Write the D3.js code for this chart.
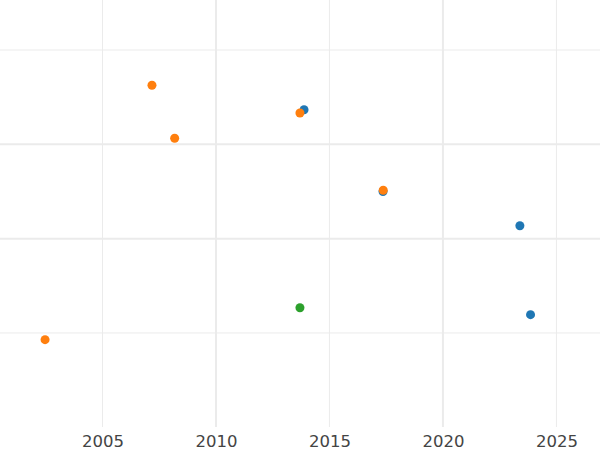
<!DOCTYPE html>
<html>
<head>
<meta charset="utf-8">
<script src="https://cdn.jsdelivr.net/npm/d3@7"></script>
<style>
html,body{margin:0;padding:0;background:#fff;}
svg{display:block;}
</style>
</head>
<body>
<svg id="chart" width="600" height="450"></svg>
<script>
// Data (x = year, y = unlabeled value)
const blueX = [2013.88, 2017.36, 2023.39, 2023.86];
const blueY = [3.367, 2.500, 2.137, 1.194];
const orangeX = [2007.18, 2008.18, 2013.70, 2017.37, 2002.47];
const orangeY = [3.626, 3.064, 3.332, 2.513, 0.929];
const greenX = [2013.70];
const greenY = [1.268];
const xTicks = [2005, 2010, 2015, 2020, 2025];
const xMajor = [2010, 2020];
const yGrid = [1, 2, 3, 4];
const yMajor = [2, 3];
const seriesColors = ["#1f77b4", "#ff7f0e", "#2ca02c"];

const svg = d3.select("#chart");
const x = d3.scaleLinear().domain([2000.485, 2026.92]).range([0, 600]);
const y = d3.scaleLinear().domain([0, 4.53]).range([427.3, 0]);

const grid = svg.append("g");
grid.selectAll("line.v").data(xTicks).join("line")
  .attr("x1", d => x(d)).attr("x2", d => x(d))
  .attr("y1", 0).attr("y2", 427)
  .attr("stroke", "#ebebeb")
  .attr("stroke-width", d => xMajor.includes(d) ? 2 : 1);
grid.selectAll("line.h").data(yGrid).join("line")
  .attr("x1", 0).attr("x2", 600)
  .attr("y1", d => y(d)).attr("y2", d => y(d))
  .attr("stroke", "#ebebeb")
  .attr("stroke-width", d => yMajor.includes(d) ? 2 : 1);

const xAxis = d3.axisBottom(x).tickValues(xTicks).tickFormat(d3.format("d")).tickSize(0).tickPadding(8);
const ax = svg.append("g").attr("transform", "translate(0,427)").call(xAxis);
ax.select(".domain").remove();
ax.selectAll("text").attr("font-family", "DejaVu Sans").attr("font-size", 16.5).attr("fill", "#444");

const series = [
  {xs: blueX, ys: blueY, c: seriesColors[0]},
  {xs: orangeX, ys: orangeY, c: seriesColors[1]},
  {xs: greenX, ys: greenY, c: seriesColors[2]}
];
series.forEach(s => {
  svg.append("g").selectAll("circle").data(s.xs.map((v, i) => [v, s.ys[i]])).join("circle")
    .attr("cx", d => x(d[0])).attr("cy", d => y(d[1]))
    .attr("r", 4.5).attr("fill", s.c);
});
</script>
</body>
</html>
